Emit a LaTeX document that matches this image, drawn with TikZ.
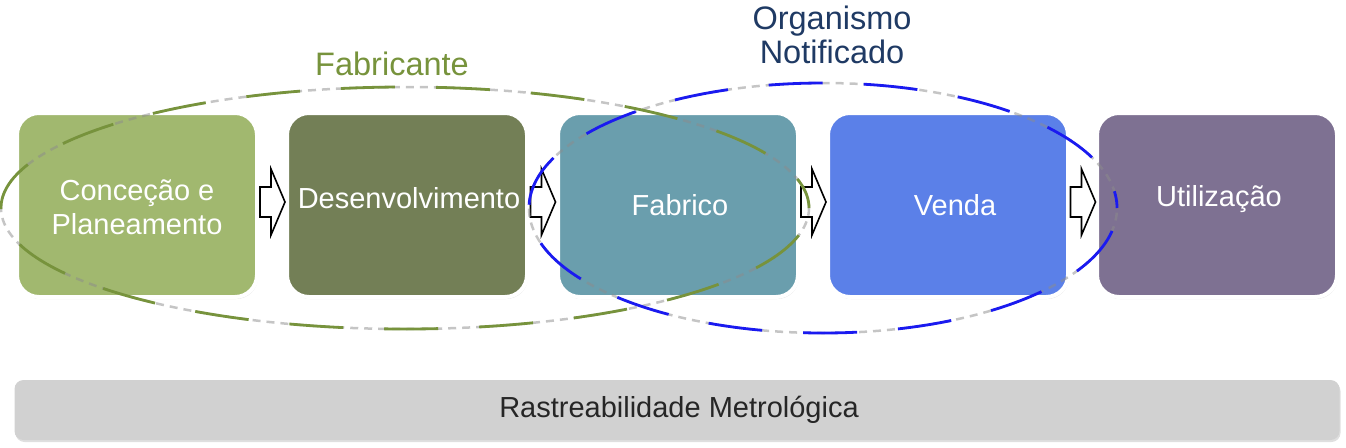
\documentclass[tikz,border=0pt]{standalone}
\usepackage{fontspec}
\setmainfont{Liberation Sans}
\usetikzlibrary{shadows,calc}
\definecolor{cA}{HTML}{A1B86F}
\definecolor{cB}{HTML}{737F56}
\definecolor{cC}{HTML}{6A9EAD}
\definecolor{cD}{HTML}{5B80E8}
\definecolor{cE}{HTML}{7E7192}
\definecolor{fabg}{HTML}{77933C}
\definecolor{orgb}{HTML}{1F3A64}
\definecolor{elb}{HTML}{1A1AF0}
\definecolor{barg}{HTML}{D1D1D1}
\tikzset{
  stagebox/.style={draw=white, line width=4pt, rounded corners=22pt, minimum width=240pt, minimum height=184pt,
     drop shadow={opacity=0.25, shadow xshift=1pt, shadow yshift=-2pt}},
  stagetext/.style={text=white, font=\fontsize{29}{34}\selectfont, align=center},
  blockarr/.style={draw=black, fill=white, line width=1.6pt, line join=miter},
  grayring/.style={draw=black!45, opacity=0.5, line width=2.5pt, dash pattern=on 8pt off 6pt},
  fabring/.style={draw=fabg, line width=2.8pt, dash pattern=on 54pt off 41pt},
  orgring/.style={draw=elb, line width=2.8pt, dash pattern=on 54pt off 41pt},
  lbl/.style={font=\fontsize{32.5}{34}\selectfont}
}
\begin{document}
\begin{tikzpicture}[x=1pt,y=-1pt]
\useasboundingbox (0,0) rectangle (1346,447);
% bottom bar
\node[draw=none, fill=barg, rounded corners=9pt, minimum width=1325pt, minimum height=60pt,
  drop shadow={opacity=0.25, shadow xshift=1pt, shadow yshift=-2pt}] (bar) at (677,410) {};
\node[font=\fontsize{29}{34}\selectfont, text=black!85] (bartxt) at (679,410) {Rastreabilidade Metrológica};
% boxes
\node[stagebox, fill=cA] (b1) at (137,205) {};
\node[stagebox, fill=cB] (b2) at (407,205) {};
\node[stagebox, fill=cC] (b3) at (678,205) {};
\node[stagebox, fill=cD] (b4) at (948,205) {};
\node[stagebox, fill=cE] (b5) at (1217,205) {};
\node[stagetext] (t1) at (137,207) {Conceção e\\Planeamento};
\node[stagetext] (t2) at ($(b2)+(2,-7)$) {Desenvolvimento};
\node[stagetext] (t3) at ($(b3)+(2,0)$) {Fabrico};
\node[stagetext] (t4) at ($(b4)+(7,0)$) {Venda};
\node[stagetext] (t5) at ($(b5)+(2,-6)$) {Utilização};
% arrows
\foreach \i/\j in {b1/b2,b2/b3,b3/b4,b4/b5}{
  \coordinate (m) at ($(\i.east)!0.5!(\j.west)+(0,-3)$);
  \draw[blockarr] ($(m)+(-12,-15)$) -- ($(m)+(-1,-15)$) -- ($(m)+(-1,-33)$) -- ($(m)+(13,0)$)
     -- ($(m)+(-1,33)$) -- ($(m)+(-1,15)$) -- ($(m)+(-12,15)$) -- cycle;
}
% ellipses
\coordinate (ef) at (405,208);
\coordinate (eo) at (823,208);
\draw[grayring] (ef) ellipse [x radius=404pt, y radius=121pt];
\draw[grayring] (eo) ellipse [x radius=294pt, y radius=125pt];
\draw[fabring, dash phase=22pt] (ef) ellipse [x radius=404pt, y radius=121pt];
\draw[orgring, dash phase=37pt] (eo) ellipse [x radius=294pt, y radius=125pt];
% labels
\node[lbl, text=fabg] (lf) at (392,64) {Fabricante};
\node[lbl, text=orgb, align=center] (lo) at (832,35) {Organismo\\Notificado};
\end{tikzpicture}
\end{document}
